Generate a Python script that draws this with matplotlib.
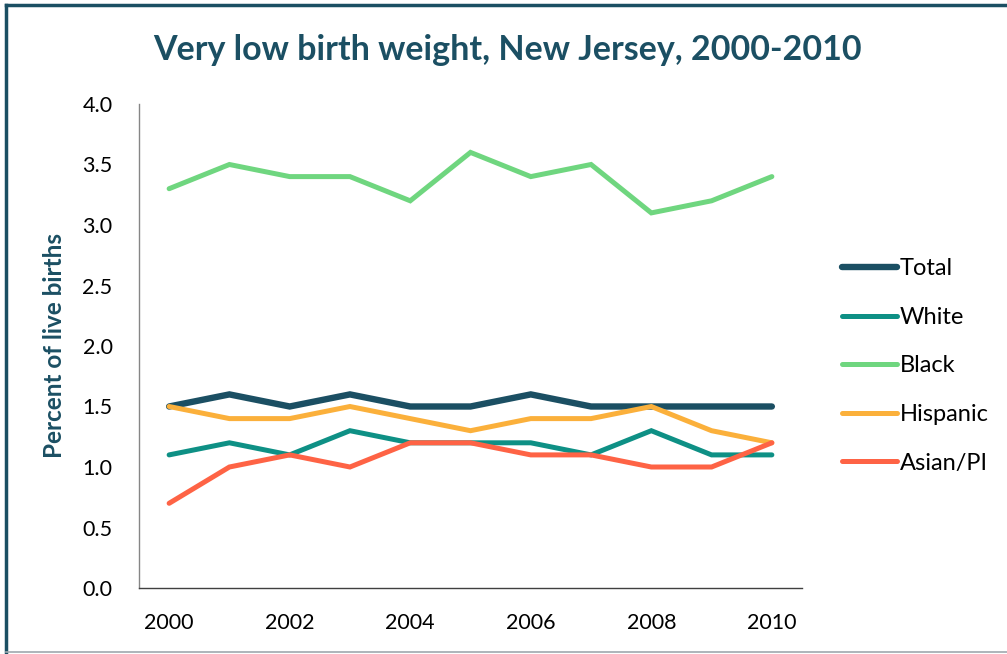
import matplotlib
matplotlib.use("Agg")
import matplotlib.pyplot as plt
from matplotlib.lines import Line2D

years = [2000, 2001, 2002, 2003, 2004, 2005, 2006, 2007, 2008, 2009, 2010]
total = [1.5, 1.6, 1.5, 1.6, 1.5, 1.5, 1.6, 1.5, 1.5, 1.5, 1.5]
white = [1.1, 1.2, 1.1, 1.3, 1.2, 1.2, 1.2, 1.1, 1.3, 1.1, 1.1]
black = [3.3, 3.5, 3.4, 3.4, 3.2, 3.6, 3.4, 3.5, 3.1, 3.2, 3.4]
hispanic = [1.5, 1.4, 1.4, 1.5, 1.4, 1.3, 1.4, 1.4, 1.5, 1.3, 1.2]
asian = [0.7, 1.0, 1.1, 1.0, 1.2, 1.2, 1.1, 1.1, 1.0, 1.0, 1.2]
series_names = ["Total", "White", "Black", "Hispanic", "Asian/PI"]
xtick_labels = ["2000", "2002", "2004", "2006", "2008", "2010"]
ytick_values = [0.0, 0.5, 1.0, 1.5, 2.0, 2.5, 3.0, 3.5, 4.0]

colors = ["#1b4f63", "#0e9085", "#6fd67f", "#fbb03b", "#fe6345"]
widths = [4.6, 3.6, 3.6, 3.6, 3.6]

plt.rcParams['font.family'] = ['Lato', 'DejaVu Sans']

fig = plt.figure(figsize=(10.07, 6.54), dpi=100)
ax = fig.add_axes([139/1007, 1-588/654, (802-139)/1007, (588-104)/654])

for name, vals, c, w in zip(series_names, [total, white, black, hispanic, asian], colors, widths):
    ax.plot(years, vals, color=c, lw=w, label=name, solid_capstyle='round', solid_joinstyle='miter')

ax.set_xlim(1999.5, 2010.5)
ax.set_ylim(0, 4.0)
ax.set_xticks([int(t) for t in xtick_labels])
ax.set_xticklabels(xtick_labels)
ax.set_yticks(ytick_values)
ax.set_yticklabels([f"{v:.1f}" for v in ytick_values])
ax.tick_params(axis='both', length=0, labelsize=15.5, colors='#000000')
ax.tick_params(axis='x', pad=18)
ax.tick_params(axis='y', pad=19)
for s in ['top', 'right']:
    ax.spines[s].set_visible(False)
ax.spines['left'].set_color('#868686')
ax.spines['bottom'].set_color('#404040')
ax.spines['left'].set_linewidth(1.0)
ax.spines['bottom'].set_linewidth(1.0)

ax.set_ylabel("Percent of live births", fontsize=17.5, fontweight='bold', color='#1b4f63')
ax.yaxis.set_label_coords((66-139)/663, 0.5)

fig.text(507/1007, 1-50/654, "Very low birth weight, New Jersey, 2000-2010", ha='center', va='center',
         fontsize=24.5, fontweight='bold', color='#1b4f63')

leg = fig.legend(loc='upper left', bbox_to_anchor=(821/1007, 1-237/654), frameon=False, fontsize=17,
                 handlelength=2.3, handletextpad=0.15, labelspacing=1.17)

# figure border
fig.add_artist(Line2D([6/1007, 6/1007], [1-652/654, 1-5/654], transform=fig.transFigure, color='#1b4f63', lw=2.5))
fig.add_artist(Line2D([6/1007, 1], [1-5/654, 1-5/654], transform=fig.transFigure, color='#1b4f63', lw=2.5))
fig.add_artist(Line2D([6/1007, 1], [1-652/654, 1-652/654], transform=fig.transFigure, color='#a0a8ae', lw=1.2))

fig.savefig("out.png", dpi=100)
